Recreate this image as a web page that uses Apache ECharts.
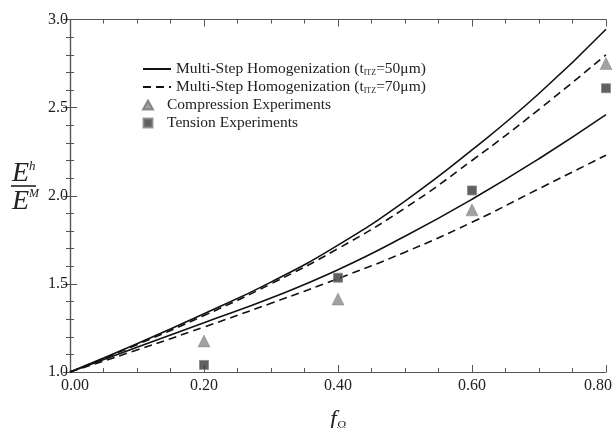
<!DOCTYPE html>
<html>
<head>
<meta charset="utf-8">
<script src="https://cdn.jsdelivr.net/npm/echarts@6/dist/echarts.min.js"></script>
<style>
  html, body { margin: 0; padding: 0; background: #fff; }
  #chart { width: 616px; height: 428px; }
</style>
</head>
<body>
<div id="chart"></div>
<script>
// volume fraction f_Omega
const fVals = [0, 0.1, 0.2, 0.3, 0.4, 0.5, 0.6, 0.7, 0.8];
// model curves
const upper50 = [1, 1.16, 1.33, 1.51, 1.72, 1.97, 2.26, 2.58, 2.945];
const upper70 = [1, 1.155, 1.32, 1.50, 1.70, 1.93, 2.20, 2.49, 2.80];
const lower50 = [1, 1.14, 1.28, 1.42, 1.58, 1.77, 1.98, 2.21, 2.46];
const lower70 = [1, 1.125, 1.255, 1.39, 1.53, 1.68, 1.85, 2.04, 2.23];
// experiments
const expF = [0.2, 0.4, 0.6, 0.8];
const compression = [1.176, 1.414, 1.92, 2.75];
const tension = [1.04, 1.535, 2.03, 2.61];

const name50 = 'Multi-Step Homogenization (50)';
const name70 = 'Multi-Step Homogenization (70)';
const nameC = 'Compression Experiments';
const nameT = 'Tension Experiments';

const pairs = (xs, ys) => xs.map((x, i) => [x, ys[i]]);

let myChart = echarts.init(document.getElementById('chart'));
const serif = '"Liberation Serif", "DejaVu Serif", serif';
const axisColor = '#555';

const legendText = {
  fontFamily: serif,
  fontSize: 15.5,
  color: '#222',
  rich: {
    a: { fontFamily: serif, fontSize: 15.5, color: '#222' },
    s: { fontFamily: serif, fontSize: 8, color: '#222', verticalAlign: 'bottom', padding: [6, 0, 0, 0] }
  }
};

function lineSeries(name, ys, type) {
  return {
    name: name,
    type: 'line',
    data: pairs(fVals, ys),
    smooth: true,
    symbol: 'none',
    lineStyle: { color: '#111', width: 1.6, type: type === 'dashed' ? [8, 5] : 'solid' },
    itemStyle: { color: '#111' },
    z: 2
  };
}

function boxAxis(extra) {
  return Object.assign({
    type: 'value',
    axisLine: { show: true, lineStyle: { color: axisColor, width: 1.2 } },
    axisTick: { show: true, inside: true, length: 7, lineStyle: { color: axisColor } },
    splitLine: { show: false }
  }, extra);
}

const xLabelFont = { fontFamily: serif, fontSize: 16, color: '#222' };

let option = {
  animation: false,
  grid: { left: 70, right: 10, top: 19.5, bottom: 56, outerBoundsMode: 'none', containLabel: false },
  legend: [{
    orient: 'vertical',
    left: 137,
    top: 56,
    itemGap: 2,
    itemWidth: 28,
    itemHeight: 14,
    itemStyle: { opacity: 0 },
    data: [name50, name70],
    textStyle: legendText,
    formatter: function (n) {
      if (n === name50) return '{a|Multi-Step Homogenization (t}{s|ITZ}{a|=50μm)}';
      return '{a|Multi-Step Homogenization (t}{s|ITZ}{a|=70μm)}';
    }
  }, {
    orient: 'vertical',
    left: 137,
    top: 92,
    itemGap: 2,
    itemWidth: 28,
    itemHeight: 9,
    symbolKeepAspect: true,
    data: [
      { name: nameC, icon: 'path://M5,0L10,9L0,9Z' },
      { name: nameT, icon: 'path://M0,0H10V10H0Z' }
    ],
    textStyle: legendText,
    formatter: n => '{a|' + n + '}'
  }],
  xAxis: [boxAxis({
    min: 0,
    max: 0.8,
    interval: 0.2,
    name: '{f|f}{s|Ω}',
    nameLocation: 'middle',
    nameGap: 36,
    nameTextStyle: {
      rich: {
        f: { fontFamily: serif, fontStyle: 'italic', fontSize: 24, color: '#222' },
        s: { fontFamily: serif, fontStyle: 'italic', fontSize: 13, color: '#222', verticalAlign: 'bottom', padding: [10, 0, 0, 0] }
      }
    },
    minorTick: { show: true, splitNumber: 4, length: 4, lineStyle: { color: axisColor } },
    axisLabel: {
      fontFamily: serif, fontSize: 16, color: '#222', margin: 6,
      formatter: function (v) {
        if (v === 0) return '{l|' + v.toFixed(2) + '}';
        if (v >= 0.8) return '{r|' + v.toFixed(2) + '}';
        return '{m|' + v.toFixed(2) + '}';
      },
      rich: {
        l: Object.assign({ padding: [0, 0, 0, 10] }, xLabelFont),
        r: Object.assign({ padding: [0, 16, 0, 0] }, xLabelFont),
        m: xLabelFont
      }
    }
  }), boxAxis({
    position: 'top',
    min: 0,
    max: 0.8,
    interval: 0.2,
    minorTick: { show: true, splitNumber: 4, length: 4, lineStyle: { color: axisColor } },
    axisLabel: { show: false }
  })],
  yAxis: [boxAxis({
    min: 1,
    max: 3,
    interval: 0.5,
    minorTick: { show: true, splitNumber: 5, length: 4, lineStyle: { color: axisColor } },
    axisLabel: {
      fontFamily: serif, fontSize: 16, color: '#222', margin: 2,
      formatter: v => v.toFixed(1)
    }
  }), boxAxis({
    position: 'right',
    min: 1,
    max: 3,
    interval: 0.5,
    minorTick: { show: true, splitNumber: 5, length: 4, lineStyle: { color: axisColor } },
    axisLabel: { show: false }
  })],
  graphic: [
    {
      type: 'text', left: 12, top: 160,
      style: {
        text: '{e|E}{h|h}',
        rich: {
          e: { fontFamily: serif, fontStyle: 'italic', fontSize: 28, fill: '#222' },
          h: { fontFamily: serif, fontStyle: 'italic', fontSize: 13, fill: '#222', verticalAlign: 'top', padding: [0, 0, 12, 0] }
        }
      }
    },
    {
      type: 'line',
      shape: { x1: 11, y1: 186, x2: 36, y2: 186 },
      style: { stroke: '#222', lineWidth: 1.6 }
    },
    {
      type: 'text', left: 12, top: 188,
      style: {
        text: '{e|E}{h|M}',
        rich: {
          e: { fontFamily: serif, fontStyle: 'italic', fontSize: 28, fill: '#222' },
          h: { fontFamily: serif, fontStyle: 'italic', fontSize: 12, fill: '#222', verticalAlign: 'top', padding: [0, 0, 12, 0] }
        }
      }
    }
  ],
  series: [
    lineSeries(name50, upper50, 'solid'),
    lineSeries(name70, upper70, 'dashed'),
    lineSeries(name50, lower50, 'solid'),
    lineSeries(name70, lower70, 'dashed'),
    {
      name: nameC,
      type: 'scatter',
      data: pairs(expF, compression),
      symbol: 'triangle',
      symbolSize: 12,
      itemStyle: { color: '#8a8a8a', borderColor: '#777', borderWidth: 0.5 },
      z: 3
    },
    {
      name: nameT,
      type: 'scatter',
      data: pairs(expF, tension),
      symbol: 'rect',
      symbolSize: 9,
      itemStyle: { color: '#3a3a3a', borderColor: '#888', borderWidth: 1 },
      z: 3
    }
  ]
};

myChart.setOption(option);
window.addEventListener('resize', () => { myChart.resize() });
</script>
</body>
</html>
